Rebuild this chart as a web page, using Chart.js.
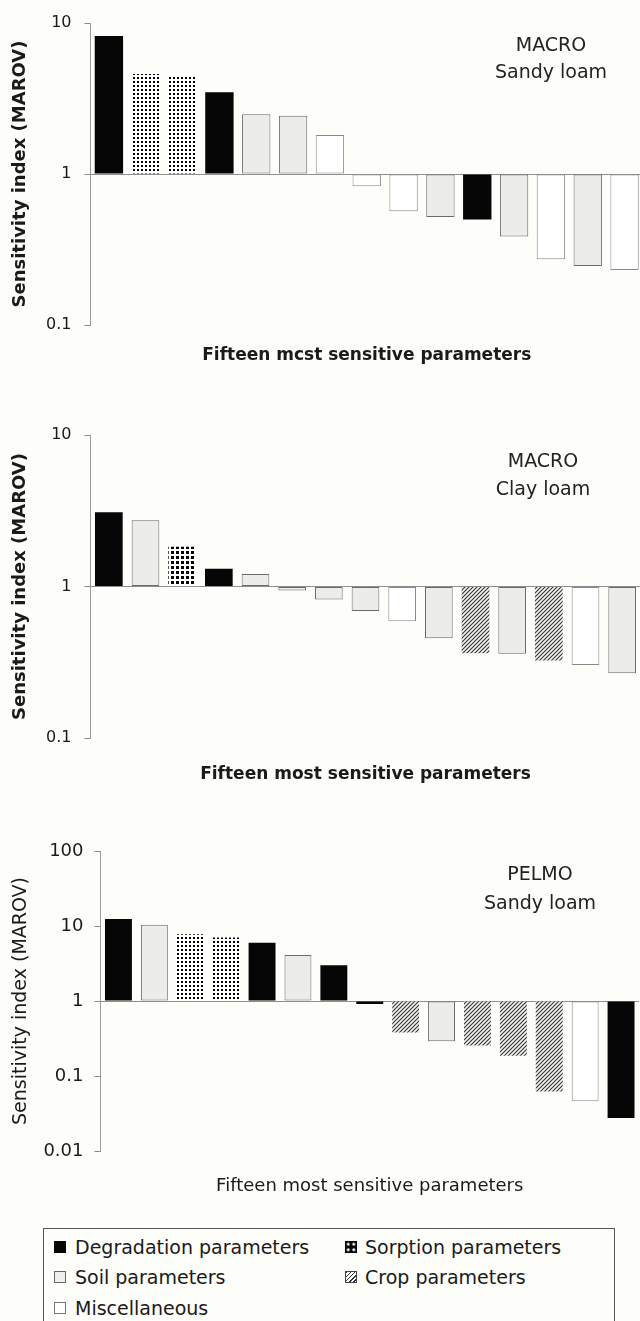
<!DOCTYPE html>
<html>
<head>
<meta charset="utf-8">
<script src="https://cdn.jsdelivr.net/npm/chart.js@4.4.1/dist/chart.umd.min.js"></script>
<style>
html,body{margin:0;padding:0;background:#fdfdf9;overflow:hidden;}
body{width:640px;height:1321px;position:relative;font-family:"DejaVu Sans",sans-serif;color:#1a1a1a;}
.panel{position:absolute;left:0;width:644px;}
.note{position:absolute;font-size:19px;line-height:1;color:#222;white-space:nowrap;transform:translate(-50%,-50%);}
#legend{position:absolute;left:43px;top:1228px;width:570px;height:120px;border:1px solid #555;}
.item{position:absolute;font-size:19px;line-height:1;white-space:nowrap;transform:translateY(-50%);color:#1a1a1a;}
.mk{position:absolute;width:12px;height:12px;box-sizing:border-box;}
</style>
</head>
<body>
<div class="panel" style="top:0;height:368px"><canvas id="c1"></canvas></div>
<div class="panel" style="top:400px;height:387px"><canvas id="c2"></canvas></div>
<div class="panel" style="top:820px;height:379px"><canvas id="c3"></canvas></div>

<div class="note" style="left:551px;top:44px">MACRO</div>
<div class="note" style="left:551px;top:71px">Sandy loam</div>
<div class="note" style="left:543px;top:460px">MACRO</div>
<div class="note" style="left:543px;top:488px">Clay loam</div>
<div class="note" style="left:540px;top:873px">PELMO</div>
<div class="note" style="left:540px;top:902px">Sandy loam</div>

<div id="legend"></div>

<script>
// ---- data ----
const paramLabels = ['1','2','3','4','5','6','7','8','9','10','11','12','13','14','15'];

const macroSandyValues = [8.2, 4.6, 4.5, 3.48, 2.49, 2.43, 1.81, 0.83, 0.566, 0.52, 0.50, 0.386, 0.273, 0.246, 0.231];
const macroSandyTypes  = ['deg','sorp','sorp','deg','soil','soil','misc','misc','misc','soil','deg','soil','misc','soil','misc'];

const macroClayValues = [3.09, 2.74, 1.83, 1.31, 1.21, 0.94, 0.82, 0.69, 0.59, 0.455, 0.363, 0.36, 0.325, 0.303, 0.268];
const macroClayTypes  = ['deg','soil','sorp','deg','soil','soil','soil','soil','misc','soil','crop','soil','crop','misc','soil'];

const pelmoSandyValues = [12.4, 10.4, 7.76, 7.0, 6.0, 4.12, 3.0, 0.91, 0.38, 0.29, 0.255, 0.186, 0.062, 0.046, 0.0275];
const pelmoSandyTypes  = ['deg','soil','sorp','sorp','deg','soil','deg','deg','crop','soil','crop','crop','crop','misc','deg'];

const macroTickValues = [0.1, 1, 10];
const macroTickLabels = ['0.1', '1', '10'];
const pelmoTickValues = [0.01, 0.1, 1, 10, 100];
const pelmoTickLabels = ['0.01', '0.1', '1', '10', '100'];

const legendKeys   = ['deg', 'sorp', 'soil', 'crop', 'misc'];
const legendLabels = ['Degradation parameters', 'Sorption parameters', 'Soil parameters', 'Crop parameters', 'Miscellaneous'];

// ---- patterns ----
function dotPattern(step, dot) {
  const c = document.createElement('canvas');
  c.width = step; c.height = step;
  const g = c.getContext('2d');
  g.fillStyle = '#ffffff'; g.fillRect(0, 0, step, step);
  g.fillStyle = '#000000'; g.fillRect(1, 1, dot, dot);
  return g.createPattern(c, 'repeat');
}
function hatchPattern() {
  const s = 4;
  const c = document.createElement('canvas');
  c.width = s; c.height = s;
  const g = c.getContext('2d');
  g.fillStyle = '#f4f4f2'; g.fillRect(0, 0, s, s);
  g.strokeStyle = '#3a3a3a'; g.lineWidth = 1.2;
  g.beginPath();
  g.moveTo(-1, s + 1); g.lineTo(s + 1, -1);
  g.moveTo(-1, 1); g.lineTo(1, -1);
  g.moveTo(s - 1, s + 1); g.lineTo(s + 1, s - 1);
  g.stroke();
  return g.createPattern(c, 'repeat');
}

function styleFor(types, dotStep, dotSize) {
  const dots = dotPattern(dotStep, dotSize);
  const hatch = hatchPattern();
  const fill = {deg:'#060606', sorp:dots, soil:'#ececea', crop:hatch, misc:'#ffffff'};
  const border = {deg:'#060606', sorp:'#222222', soil:'#6a6a6a', crop:'#555555', misc:'#8a8a8a'};
  const bw = {deg:0, sorp:0, soil:1, crop:0, misc:1};
  return {
    bg: types.map(t => fill[t]),
    bc: types.map(t => border[t]),
    bw: types.map(t => bw[t])
  };
}

function makePanel(id, values, types, opt) {
  const st = styleFor(types, opt.dotStep, opt.dotSize);
  return new Chart(document.getElementById(id), {
    type: 'bar',
    data: {
      labels: paramLabels,
      datasets: [{
        data: values,
        base: 1,
        backgroundColor: st.bg,
        borderColor: st.bc,
        borderWidth: st.bw,
        borderSkipped: false,
        barPercentage: opt.barPct,
        categoryPercentage: 1
      }]
    },
    options: {
      responsive: true,
      maintainAspectRatio: false,
      animation: false,
      events: [],
      layout: {padding: {top: opt.padTop, right: opt.padRight, left: 0, bottom: 0}},
      plugins: {legend: {display: false}, tooltip: {enabled: false}},
      scales: {
        x: {
          display: true,
          offset: true,
          ticks: {display: false},
          grid: {display: false},
          border: {display: false},
          title: {
            display: true,
            text: opt.xTitle,
            color: '#1a1a1a',
            font: {family: 'DejaVu Sans', size: opt.xTitleSize, weight: opt.bold ? 'bold' : 'normal'},
            padding: {top: 0, bottom: 2}
          },
          afterFit: s => { s.height = opt.xHeight; }
        },
        y: {
          type: 'logarithmic',
          min: opt.ticks[0],
          max: opt.ticks[opt.ticks.length - 1],
          afterBuildTicks: s => { s.ticks = opt.ticks.map(v => ({value: v})); },
          afterFit: s => { s.width = opt.axisX; },
          ticks: {
            autoSkip: false,
            padding: opt.tickPad,
            color: '#1a1a1a',
            font: {family: 'DejaVu Sans', size: opt.tickSize},
            callback: (v, i) => opt.tickLabels[i]
          },
          grid: {
            display: true,
            drawOnChartArea: true,
            drawTicks: true,
            tickLength: 6,
            tickColor: '#8a8a8a',
            lineWidth: 1,
            color: c => (c.tick && c.tick.value === 1) ? '#8f8f8f' : 'rgba(0,0,0,0)'
          },
          border: {display: true, color: '#9a9a9a', width: 1},
          title: {
            display: true,
            text: 'Sensitivity index (MAROV)',
            color: '#1a1a1a',
            font: {family: 'DejaVu Sans', size: opt.yTitleSize, weight: opt.bold ? 'bold' : 'normal'},
            padding: {top: 10, bottom: 0}
          }
        }
      }
    }
  });
}

makePanel('c1', macroSandyValues, macroSandyTypes, {
  padTop: 23, padRight: 1, xHeight: 43, axisX: 90.5, tickPad: 13, tickSize: 16,
  ticks: macroTickValues, tickLabels: macroTickLabels, barPct: 0.77, dotStep: 4, dotSize: 2,
  xTitle: 'Fifteen mcst sensitive parameters', bold: true, xTitleSize: 17, yTitleSize: 18
});
makePanel('c2', macroClayValues, macroClayTypes, {
  padTop: 35, padRight: 3.5, xHeight: 49, axisX: 90.5, tickPad: 13, tickSize: 16,
  ticks: macroTickValues, tickLabels: macroTickLabels, barPct: 0.755, dotStep: 5, dotSize: 3,
  xTitle: 'Fifteen most sensitive parameters', bold: true, xTitleSize: 17, yTitleSize: 18
});
makePanel('c3', pelmoSandyValues, pelmoSandyTypes, {
  padTop: 31, padRight: 5, xHeight: 48, axisX: 100.5, tickPad: 11, tickSize: 18,
  ticks: pelmoTickValues, tickLabels: pelmoTickLabels, barPct: 0.75, dotStep: 4, dotSize: 2,
  xTitle: 'Fifteen most sensitive parameters', bold: false, xTitleSize: 18, yTitleSize: 19
});

// ---- legend ----
const markerCss = {
  deg:  'background:#060606;',
  sorp: 'background:radial-gradient(circle, #fff 1.2px, transparent 1.7px) 0.5px 0.5px/5.5px 5.5px, #060606;',
  soil: 'background:#f0f0ee;border:1px solid #666;',
  crop: 'background:repeating-linear-gradient(135deg,#333 0 1px,#fff 1px 3px);border:1px solid #444;',
  misc: 'background:#fff;border:1px solid #777;'
};
const legendPos = {
  deg:  {mx: 54,  tx: 75,  y: 1247},
  sorp: {mx: 345, tx: 365, y: 1247},
  soil: {mx: 54,  tx: 75,  y: 1277},
  crop: {mx: 345, tx: 365, y: 1277},
  misc: {mx: 54,  tx: 75,  y: 1308}
};
legendKeys.forEach((k, i) => {
  const p = legendPos[k];
  const m = document.createElement('div');
  m.className = 'mk';
  m.style.cssText = 'left:' + p.mx + 'px;top:' + (p.y - 6) + 'px;' + markerCss[k];
  document.body.appendChild(m);
  const t = document.createElement('div');
  t.className = 'item';
  t.style.left = p.tx + 'px';
  t.style.top = p.y + 'px';
  t.textContent = legendLabels[i];
  document.body.appendChild(t);
});
</script>
</body>
</html>
